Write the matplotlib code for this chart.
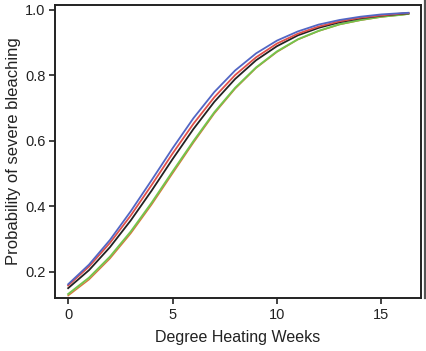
import matplotlib
matplotlib.use("Agg")
import matplotlib.pyplot as plt
from matplotlib.lines import Line2D

plt.rcParams['font.family'] = ['Liberation Sans', 'DejaVu Sans']

dhw = [0, 1, 2, 3, 4, 5, 6, 7, 8, 9, 10, 11, 12, 13, 14, 15, 16, 16.3]
blue = [0.162, 0.222, 0.297, 0.385, 0.480, 0.577, 0.669, 0.749, 0.815, 0.867,
        0.906, 0.934, 0.955, 0.969, 0.979, 0.986, 0.990, 0.991]
red = [0.158, 0.216, 0.288, 0.372, 0.465, 0.561, 0.652, 0.733, 0.801, 0.855,
       0.897, 0.927, 0.949, 0.965, 0.976, 0.983, 0.989, 0.990]
black = [0.150, 0.205, 0.275, 0.357, 0.448, 0.544, 0.636, 0.719, 0.789, 0.846,
         0.889, 0.922, 0.945, 0.962, 0.974, 0.982, 0.988, 0.989]
green = [0.132, 0.182, 0.246, 0.323, 0.411, 0.506, 0.599, 0.687, 0.762, 0.824,
         0.873, 0.910, 0.936, 0.956, 0.969, 0.979, 0.985, 0.988]
orange = [0.127, 0.176, 0.240, 0.317, 0.405, 0.500, 0.594, 0.683, 0.759, 0.822,
          0.871, 0.909, 0.935, 0.955, 0.968, 0.978, 0.985, 0.987]

xticks = [0, 5, 10, 15]
yticks = [0.2, 0.4, 0.6, 0.8, 1.0]

fig = plt.figure(figsize=(4.27, 3.51), dpi=100)
ax = fig.add_axes([0.129, 0.151, 0.857, 0.835])

ax.plot(dhw, orange, color='#d9733a', lw=1.0)
ax.plot(dhw, green, color='#74c44c', lw=1.4)
ax.plot(dhw, black, color='#222222', lw=1.3)
ax.plot(dhw, red, color='#e0504a', lw=1.3)
ax.plot(dhw, blue, color='#5266c4', lw=1.3)

ax.set_xlim(-0.625, 16.9)
ax.set_ylim(0.12, 1.015)
ax.set_xticks(xticks)
ax.set_xticklabels([str(t) for t in xticks])
ax.set_yticks(yticks)
ax.set_yticklabels(['%.1f' % t for t in yticks])
ax.tick_params(direction='out', length=4, width=1.2, labelsize=10.5, colors='#222222', pad=3)
for s in ax.spines.values():
    s.set_linewidth(1.4)
    s.set_color('#222222')

ax.set_xlabel('Degree Heating Weeks', fontsize=11.5, color='#222222', labelpad=6)
ax.set_ylabel('Probability of severe bleaching', fontsize=12, color='#222222', labelpad=3)

fig.add_artist(Line2D([0.995, 0.995], [0.151, 1.0], transform=fig.transFigure,
                      color='#555555', lw=1.6))

fig.savefig('out.png', dpi=100)
